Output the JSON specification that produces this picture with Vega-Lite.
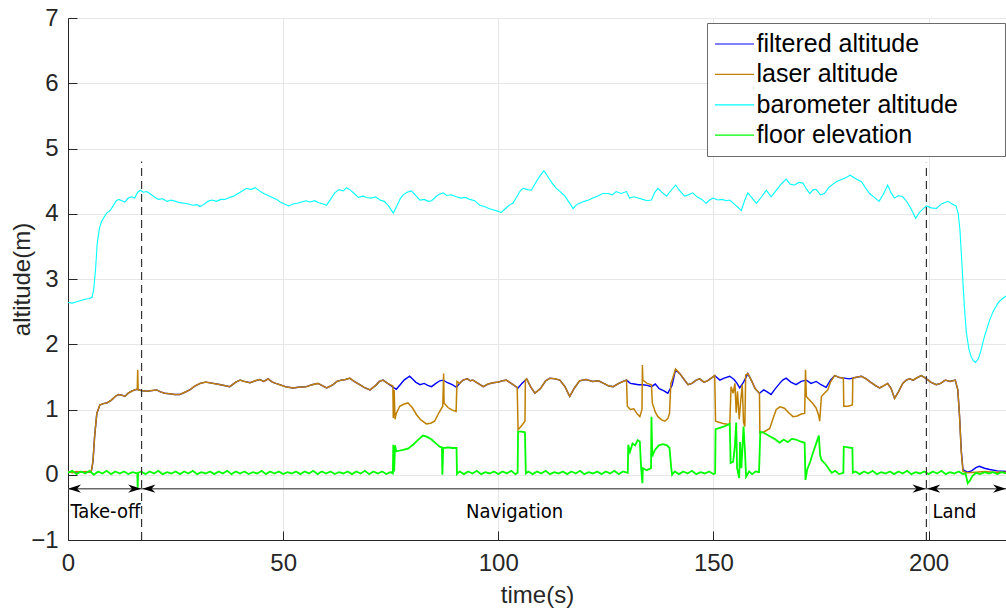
{
"$schema": "https://vega.github.io/schema/vega-lite/v6.json",
"width": 938, "height": 522,
"autosize": {"type": "none"},
"padding": {"left": 68, "top": 18, "right": 0, "bottom": 68},
"background": "white",
"config": {"view": {"stroke": null}, "font": "Liberation Sans"},
"datasets": {
"filtered": [
{"t":0,"a":0.04},{"t":5.4,"a":0.04},{"t":5.8,"a":0.2},{"t":6.2,"a":0.6},{"t":6.7,"a":0.94},{"t":7.4,"a":1.07},{"t":8.2,"a":1.09},{"t":9.0,"a":1.10},{"t":10.0,"a":1.14},{"t":11.0,"a":1.20},{"t":11.7,"a":1.23},{"t":12.5,"a":1.22},{"t":13.2,"a":1.20},{"t":14.0,"a":1.25},{"t":14.8,"a":1.28},{"t":15.5,"a":1.30},{"t":16.1,"a":1.31},{"t":17.0,"a":1.29},{"t":18.3,"a":1.28},{"t":19.5,"a":1.29},{"t":20.6,"a":1.30},{"t":21.5,"a":1.27},{"t":22.5,"a":1.25},{"t":23.7,"a":1.24},{"t":24.8,"a":1.23},{"t":26.0,"a":1.23},{"t":27.0,"a":1.26},{"t":28.3,"a":1.30},{"t":29.5,"a":1.36},{"t":30.7,"a":1.40},{"t":32.0,"a":1.42},{"t":33.8,"a":1.40},{"t":35.5,"a":1.38},{"t":37.6,"a":1.35},{"t":39.0,"a":1.42},{"t":40.0,"a":1.45},{"t":41.0,"a":1.43},{"t":42.3,"a":1.41},{"t":43.5,"a":1.44},{"t":44.5,"a":1.46},{"t":45.5,"a":1.43},{"t":46.5,"a":1.47},{"t":47.5,"a":1.42},{"t":48.3,"a":1.40},{"t":49.2,"a":1.38},{"t":50.5,"a":1.35},{"t":52.3,"a":1.33},{"t":53.5,"a":1.34},{"t":55.4,"a":1.35},{"t":56.7,"a":1.38},{"t":58.1,"a":1.40},{"t":59.0,"a":1.37},{"t":60.1,"a":1.33},{"t":61.0,"a":1.36},{"t":61.6,"a":1.38},{"t":62.5,"a":1.43},{"t":63.5,"a":1.45},{"t":64.5,"a":1.46},{"t":65.5,"a":1.48},{"t":66.5,"a":1.43},{"t":67.8,"a":1.38},{"t":68.8,"a":1.34},{"t":70.2,"a":1.30},{"t":71.5,"a":1.37},{"t":72.4,"a":1.43},{"t":73.2,"a":1.45},{"t":74.3,"a":1.40},{"t":75.6,"a":1.34},{"t":76.3,"a":1.31},{"t":77.2,"a":1.38},{"t":78.1,"a":1.45},{"t":79.4,"a":1.51},{"t":80.2,"a":1.46},{"t":80.8,"a":1.42},{"t":81.8,"a":1.38},{"t":82.8,"a":1.40},{"t":83.6,"a":1.37},{"t":84.5,"a":1.35},{"t":85.5,"a":1.40},{"t":86.4,"a":1.44},{"t":87.2,"a":1.45},{"t":88.2,"a":1.41},{"t":89.3,"a":1.38},{"t":90.3,"a":1.34},{"t":91.0,"a":1.40},{"t":91.8,"a":1.45},{"t":92.8,"a":1.47},{"t":93.5,"a":1.44},{"t":94.1,"a":1.45},{"t":95.3,"a":1.40},{"t":96.5,"a":1.35},{"t":97.6,"a":1.39},{"t":98.8,"a":1.41},{"t":100.0,"a":1.42},{"t":101.0,"a":1.44},{"t":101.9,"a":1.45},{"t":103.0,"a":1.40},{"t":104.6,"a":1.33},{"t":105.5,"a":1.40},{"t":106.6,"a":1.47},{"t":107.5,"a":1.35},{"t":108.5,"a":1.25},{"t":109.8,"a":1.32},{"t":111.0,"a":1.44},{"t":112.0,"a":1.48},{"t":113.2,"a":1.47},{"t":114.3,"a":1.45},{"t":115.5,"a":1.35},{"t":116.6,"a":1.20},{"t":117.7,"a":1.33},{"t":118.9,"a":1.44},{"t":120.4,"a":1.46},{"t":122.0,"a":1.43},{"t":123.3,"a":1.44},{"t":124.5,"a":1.40},{"t":125.7,"a":1.36},{"t":126.7,"a":1.35},{"t":128.0,"a":1.40},{"t":129.0,"a":1.43},{"t":129.8,"a":1.45},{"t":130.7,"a":1.40},{"t":131.6,"a":1.39},{"t":132.6,"a":1.38},{"t":133.6,"a":1.38},{"t":134.6,"a":1.37},{"t":135.6,"a":1.35},{"t":136.5,"a":1.39},{"t":137.4,"a":1.32},{"t":138.4,"a":1.29},{"t":139.4,"a":1.25},{"t":140.4,"a":1.37},{"t":141.2,"a":1.61},{"t":142.2,"a":1.55},{"t":143.2,"a":1.46},{"t":144.1,"a":1.38},{"t":145.0,"a":1.40},{"t":146.0,"a":1.45},{"t":146.8,"a":1.47},{"t":147.8,"a":1.42},{"t":148.6,"a":1.44},{"t":149.5,"a":1.48},{"t":150.3,"a":1.52},{"t":151.5,"a":1.45},{"t":152.5,"a":1.48},{"t":153.8,"a":1.51},{"t":154.8,"a":1.46},{"t":155.5,"a":1.40},{"t":156.1,"a":1.33},{"t":157.0,"a":1.42},{"t":158.0,"a":1.55},{"t":158.8,"a":1.45},{"t":159.7,"a":1.32},{"t":160.7,"a":1.25},{"t":161.7,"a":1.30},{"t":162.5,"a":1.27},{"t":163.4,"a":1.23},{"t":164.4,"a":1.32},{"t":165.4,"a":1.40},{"t":166.1,"a":1.45},{"t":166.9,"a":1.48},{"t":168.0,"a":1.42},{"t":169.2,"a":1.38},{"t":170.4,"a":1.43},{"t":171.6,"a":1.45},{"t":172.7,"a":1.40},{"t":173.9,"a":1.43},{"t":175.0,"a":1.38},{"t":176.2,"a":1.34},{"t":177.2,"a":1.45},{"t":178.2,"a":1.52},{"t":179.3,"a":1.49},{"t":180.4,"a":1.48},{"t":181.6,"a":1.47},{"t":183.0,"a":1.49},{"t":184.4,"a":1.51},{"t":185.5,"a":1.47},{"t":186.5,"a":1.42},{"t":187.6,"a":1.37},{"t":188.6,"a":1.33},{"t":189.5,"a":1.36},{"t":190.5,"a":1.40},{"t":191.3,"a":1.32},{"t":192.1,"a":1.17},{"t":193.0,"a":1.27},{"t":194.0,"a":1.40},{"t":194.8,"a":1.45},{"t":195.6,"a":1.47},{"t":196.4,"a":1.45},{"t":197.4,"a":1.49},{"t":198.3,"a":1.52},{"t":199.3,"a":1.48},{"t":200.5,"a":1.42},{"t":201.8,"a":1.38},{"t":202.8,"a":1.40},{"t":203.9,"a":1.45},{"t":205.0,"a":1.43},{"t":206.2,"a":1.45},{"t":206.8,"a":1.30},{"t":207.2,"a":0.90},{"t":207.6,"a":0.38},{"t":208.0,"a":0.08},{"t":209.0,"a":0.04},{"t":210.0,"a":0.06},{"t":211.0,"a":0.11},{"t":211.8,"a":0.13},{"t":213.0,"a":0.10},{"t":214.2,"a":0.08},{"t":216.0,"a":0.06},{"t":218.0,"a":0.05}
],
"laser": [
{"t":0,"a":0.05},{"t":1,"a":0.03},{"t":2,"a":0.05},{"t":3,"a":0.04},{"t":4,"a":0.05},{"t":5,"a":0.04},{"t":5.4,"a":0.05},{"t":5.8,"a":0.2},{"t":6.2,"a":0.6},{"t":6.7,"a":0.94},{"t":7.4,"a":1.07},{"t":8.2,"a":1.09},{"t":9.0,"a":1.10},{"t":10.0,"a":1.14},{"t":11.0,"a":1.20},{"t":11.7,"a":1.23},{"t":12.5,"a":1.22},{"t":13.2,"a":1.20},{"t":14.0,"a":1.25},{"t":14.8,"a":1.28},{"t":15.5,"a":1.30},{"t":16.1,"a":1.31},{"t":16.2,"a":1.61},{"t":16.3,"a":1.30},{"t":17.0,"a":1.29},{"t":18.3,"a":1.28},{"t":19.5,"a":1.29},{"t":20.6,"a":1.30},{"t":21.5,"a":1.27},{"t":22.5,"a":1.25},{"t":23.7,"a":1.24},{"t":24.8,"a":1.23},{"t":26.0,"a":1.23},{"t":27.0,"a":1.26},{"t":28.3,"a":1.30},{"t":29.5,"a":1.36},{"t":30.7,"a":1.40},{"t":32.0,"a":1.42},{"t":33.8,"a":1.40},{"t":35.5,"a":1.38},{"t":37.6,"a":1.35},{"t":39.0,"a":1.42},{"t":40.0,"a":1.45},{"t":41.0,"a":1.43},{"t":42.3,"a":1.41},{"t":43.5,"a":1.44},{"t":44.5,"a":1.46},{"t":45.5,"a":1.43},{"t":46.5,"a":1.47},{"t":47.5,"a":1.42},{"t":48.3,"a":1.40},{"t":49.2,"a":1.38},{"t":50.5,"a":1.35},{"t":52.3,"a":1.33},{"t":53.5,"a":1.34},{"t":55.4,"a":1.35},{"t":56.7,"a":1.38},{"t":58.1,"a":1.40},{"t":59.0,"a":1.37},{"t":60.1,"a":1.33},{"t":61.0,"a":1.36},{"t":61.6,"a":1.38},{"t":62.5,"a":1.43},{"t":63.5,"a":1.45},{"t":64.5,"a":1.46},{"t":65.5,"a":1.48},{"t":66.5,"a":1.43},{"t":67.8,"a":1.38},{"t":68.8,"a":1.34},{"t":70.2,"a":1.30},{"t":71.5,"a":1.37},{"t":72.4,"a":1.43},{"t":73.2,"a":1.45},{"t":74.3,"a":1.40},{"t":75.5,"a":1.36},{"t":75.6,"a":0.87},{"t":75.8,"a":1.30},{"t":76.0,"a":0.85},{"t":76.3,"a":0.94},{"t":77.1,"a":1.05},{"t":78.0,"a":1.08},{"t":79.0,"a":1.10},{"t":80.0,"a":1.03},{"t":81.0,"a":0.92},{"t":82.0,"a":0.84},{"t":83.3,"a":0.78},{"t":84.3,"a":0.79},{"t":85.2,"a":0.82},{"t":86.2,"a":0.95},{"t":87.1,"a":1.05},{"t":87.3,"a":1.55},{"t":87.4,"a":1.10},{"t":88.3,"a":1.03},{"t":89.3,"a":0.99},{"t":90.2,"a":0.97},{"t":90.4,"a":1.43},{"t":91.0,"a":1.40},{"t":91.8,"a":1.45},{"t":92.8,"a":1.47},{"t":93.5,"a":1.44},{"t":94.1,"a":1.45},{"t":95.3,"a":1.40},{"t":96.5,"a":1.35},{"t":97.6,"a":1.39},{"t":98.8,"a":1.41},{"t":100.0,"a":1.42},{"t":101.0,"a":1.44},{"t":101.9,"a":1.45},{"t":103.0,"a":1.40},{"t":104.4,"a":1.34},{"t":104.6,"a":0.69},{"t":105.5,"a":0.76},{"t":106.2,"a":0.82},{"t":106.3,"a":1.45},{"t":106.6,"a":1.47},{"t":107.5,"a":1.35},{"t":108.5,"a":1.25},{"t":109.8,"a":1.32},{"t":111.0,"a":1.44},{"t":112.0,"a":1.48},{"t":113.2,"a":1.47},{"t":114.3,"a":1.45},{"t":115.5,"a":1.35},{"t":116.6,"a":1.20},{"t":117.7,"a":1.33},{"t":118.9,"a":1.44},{"t":120.4,"a":1.46},{"t":122.0,"a":1.43},{"t":123.3,"a":1.44},{"t":124.5,"a":1.40},{"t":125.7,"a":1.36},{"t":126.7,"a":1.35},{"t":128.0,"a":1.40},{"t":129.0,"a":1.43},{"t":129.8,"a":1.45},{"t":130.0,"a":1.05},{"t":130.7,"a":1.00},{"t":131.5,"a":1.01},{"t":132.3,"a":0.93},{"t":132.9,"a":0.89},{"t":133.4,"a":1.00},{"t":133.5,"a":1.68},{"t":133.6,"a":1.45},{"t":134.6,"a":1.40},{"t":135.6,"a":1.38},{"t":135.8,"a":1.10},{"t":136.5,"a":0.96},{"t":137.1,"a":0.89},{"t":138.0,"a":0.84},{"t":138.7,"a":0.82},{"t":139.4,"a":0.86},{"t":139.8,"a":0.94},{"t":140.1,"a":1.40},{"t":140.4,"a":1.45},{"t":141.2,"a":1.62},{"t":142.2,"a":1.55},{"t":143.2,"a":1.46},{"t":144.1,"a":1.38},{"t":145.0,"a":1.40},{"t":146.0,"a":1.45},{"t":146.8,"a":1.47},{"t":147.8,"a":1.42},{"t":148.6,"a":1.44},{"t":149.5,"a":1.48},{"t":150.3,"a":1.52},{"t":150.5,"a":0.82},{"t":151.5,"a":0.80},{"t":152.5,"a":0.78},{"t":153.8,"a":0.77},{"t":154.1,"a":1.35},{"t":154.6,"a":1.25},{"t":155.0,"a":1.40},{"t":155.3,"a":0.95},{"t":155.6,"a":1.28},{"t":156.0,"a":0.85},{"t":156.3,"a":1.10},{"t":156.7,"a":1.38},{"t":157.0,"a":0.80},{"t":157.3,"a":0.74},{"t":157.5,"a":1.53},{"t":158.0,"a":1.55},{"t":158.8,"a":1.45},{"t":159.7,"a":1.32},{"t":160.7,"a":1.25},{"t":160.8,"a":0.64},{"t":161.8,"a":0.66},{"t":163.1,"a":0.71},{"t":163.8,"a":0.85},{"t":164.6,"a":1.00},{"t":165.5,"a":1.04},{"t":166.5,"a":1.02},{"t":167.5,"a":0.95},{"t":168.5,"a":0.89},{"t":169.5,"a":0.90},{"t":170.4,"a":0.93},{"t":171.2,"a":0.94},{"t":171.4,"a":1.61},{"t":171.6,"a":1.20},{"t":172.0,"a":1.17},{"t":173.0,"a":1.10},{"t":173.9,"a":1.02},{"t":174.5,"a":0.90},{"t":174.7,"a":0.82},{"t":175.1,"a":1.20},{"t":175.8,"a":1.25},{"t":176.6,"a":1.30},{"t":177.2,"a":1.42},{"t":178.2,"a":1.52},{"t":179.3,"a":1.49},{"t":180.2,"a":1.48},{"t":180.3,"a":1.05},{"t":181.3,"a":1.05},{"t":182.3,"a":1.07},{"t":182.4,"a":1.48},{"t":183.0,"a":1.49},{"t":184.4,"a":1.51},{"t":185.5,"a":1.47},{"t":186.5,"a":1.42},{"t":187.6,"a":1.37},{"t":188.6,"a":1.33},{"t":189.5,"a":1.36},{"t":190.5,"a":1.40},{"t":191.3,"a":1.32},{"t":192.1,"a":1.17},{"t":193.0,"a":1.27},{"t":194.0,"a":1.40},{"t":194.8,"a":1.45},{"t":195.6,"a":1.47},{"t":196.4,"a":1.45},{"t":197.4,"a":1.49},{"t":198.3,"a":1.52},{"t":199.3,"a":1.48},{"t":200.5,"a":1.42},{"t":201.8,"a":1.38},{"t":202.8,"a":1.40},{"t":203.9,"a":1.45},{"t":205.0,"a":1.43},{"t":206.2,"a":1.45},{"t":206.8,"a":1.30},{"t":207.2,"a":0.90},{"t":207.6,"a":0.35},{"t":208.0,"a":0.05},{"t":209.0,"a":0.03},{"t":211.0,"a":0.04},{"t":213.0,"a":0.05},{"t":215.0,"a":0.04},{"t":218.0,"a":0.04}
],
"baro": [
{"t":0,"a":2.64},{"t":1,"a":2.63},{"t":2,"a":2.65},{"t":3,"a":2.67},{"t":4,"a":2.69},{"t":5,"a":2.70},{"t":5.6,"a":2.72},{"t":6.0,"a":2.85},{"t":6.4,"a":3.15},{"t":6.8,"a":3.55},{"t":7.3,"a":3.78},{"t":7.8,"a":3.88},{"t":8.4,"a":3.95},{"t":9.0,"a":4.01},{"t":9.8,"a":4.05},{"t":10.5,"a":4.12},{"t":11.2,"a":4.20},{"t":11.8,"a":4.22},{"t":12.5,"a":4.20},{"t":13.2,"a":4.18},{"t":14.0,"a":4.24},{"t":14.8,"a":4.26},{"t":15.5,"a":4.24},{"t":16.2,"a":4.33},{"t":16.8,"a":4.36},{"t":17.5,"a":4.33},{"t":18.3,"a":4.34},{"t":19.0,"a":4.31},{"t":20.0,"a":4.26},{"t":21.0,"a":4.22},{"t":22.0,"a":4.23},{"t":23.0,"a":4.19},{"t":24.0,"a":4.21},{"t":25.0,"a":4.19},{"t":26.0,"a":4.17},{"t":27.0,"a":4.16},{"t":28.0,"a":4.15},{"t":29.0,"a":4.13},{"t":30.0,"a":4.14},{"t":30.7,"a":4.11},{"t":31.5,"a":4.14},{"t":32.5,"a":4.19},{"t":33.5,"a":4.21},{"t":34.5,"a":4.19},{"t":35.5,"a":4.22},{"t":36.5,"a":4.22},{"t":37.5,"a":4.25},{"t":38.5,"a":4.27},{"t":39.5,"a":4.31},{"t":40.5,"a":4.35},{"t":41.5,"a":4.39},{"t":42.5,"a":4.37},{"t":43.5,"a":4.40},{"t":44.5,"a":4.35},{"t":45.5,"a":4.31},{"t":46.5,"a":4.28},{"t":47.5,"a":4.25},{"t":48.5,"a":4.22},{"t":49.3,"a":4.18},{"t":50.3,"a":4.15},{"t":51.3,"a":4.12},{"t":52.3,"a":4.15},{"t":53.3,"a":4.16},{"t":54.3,"a":4.18},{"t":55.3,"a":4.20},{"t":56.3,"a":4.18},{"t":57.3,"a":4.20},{"t":58.3,"a":4.17},{"t":59.3,"a":4.15},{"t":60.1,"a":4.13},{"t":61.0,"a":4.22},{"t":62.0,"a":4.32},{"t":63.0,"a":4.37},{"t":64.0,"a":4.35},{"t":64.7,"a":4.40},{"t":65.5,"a":4.37},{"t":66.5,"a":4.31},{"t":67.5,"a":4.25},{"t":68.5,"a":4.27},{"t":69.5,"a":4.25},{"t":70.5,"a":4.24},{"t":71.5,"a":4.26},{"t":72.5,"a":4.21},{"t":73.5,"a":4.19},{"t":74.5,"a":4.12},{"t":75.6,"a":4.01},{"t":76.5,"a":4.13},{"t":77.3,"a":4.24},{"t":77.9,"a":4.29},{"t":78.8,"a":4.33},{"t":79.8,"a":4.35},{"t":80.8,"a":4.28},{"t":81.8,"a":4.21},{"t":82.8,"a":4.22},{"t":83.7,"a":4.19},{"t":84.5,"a":4.20},{"t":85.5,"a":4.26},{"t":86.3,"a":4.30},{"t":87.2,"a":4.32},{"t":88.0,"a":4.28},{"t":89.0,"a":4.29},{"t":90.3,"a":4.26},{"t":91.3,"a":4.24},{"t":92.3,"a":4.25},{"t":93.4,"a":4.22},{"t":94.5,"a":4.20},{"t":95.7,"a":4.13},{"t":96.8,"a":4.11},{"t":97.8,"a":4.08},{"t":98.8,"a":4.06},{"t":99.8,"a":4.04},{"t":100.7,"a":4.02},{"t":101.7,"a":4.08},{"t":102.7,"a":4.14},{"t":103.4,"a":4.16},{"t":104.3,"a":4.26},{"t":105.2,"a":4.36},{"t":105.8,"a":4.39},{"t":106.8,"a":4.37},{"t":107.7,"a":4.36},{"t":108.7,"a":4.48},{"t":109.7,"a":4.58},{"t":110.6,"a":4.66},{"t":111.5,"a":4.57},{"t":112.5,"a":4.47},{"t":113.5,"a":4.39},{"t":114.5,"a":4.33},{"t":115.5,"a":4.27},{"t":116.5,"a":4.17},{"t":117.4,"a":4.08},{"t":118.2,"a":4.14},{"t":118.9,"a":4.16},{"t":120.0,"a":4.19},{"t":121.0,"a":4.21},{"t":122.0,"a":4.24},{"t":123.0,"a":4.27},{"t":124.3,"a":4.31},{"t":125.5,"a":4.31},{"t":126.5,"a":4.29},{"t":127.4,"a":4.34},{"t":128.5,"a":4.31},{"t":129.8,"a":4.34},{"t":130.5,"a":4.24},{"t":131.5,"a":4.26},{"t":132.5,"a":4.24},{"t":133.6,"a":4.22},{"t":134.6,"a":4.20},{"t":135.6,"a":4.21},{"t":136.3,"a":4.32},{"t":137.1,"a":4.39},{"t":138.0,"a":4.33},{"t":139.1,"a":4.27},{"t":140.2,"a":4.36},{"t":141.2,"a":4.44},{"t":142.2,"a":4.35},{"t":143.3,"a":4.27},{"t":144.2,"a":4.29},{"t":145.2,"a":4.32},{"t":146.2,"a":4.26},{"t":147.3,"a":4.22},{"t":148.3,"a":4.16},{"t":149.1,"a":4.21},{"t":149.9,"a":4.24},{"t":151.0,"a":4.21},{"t":152.0,"a":4.22},{"t":153.0,"a":4.20},{"t":153.8,"a":4.21},{"t":155.0,"a":4.14},{"t":156.5,"a":4.05},{"t":157.3,"a":4.21},{"t":158.0,"a":4.32},{"t":159.0,"a":4.24},{"t":160.0,"a":4.16},{"t":161.2,"a":4.26},{"t":162.3,"a":4.36},{"t":163.4,"a":4.26},{"t":164.5,"a":4.35},{"t":165.7,"a":4.45},{"t":166.9,"a":4.53},{"t":167.9,"a":4.45},{"t":168.9,"a":4.44},{"t":169.8,"a":4.48},{"t":170.8,"a":4.47},{"t":171.6,"a":4.38},{"t":172.4,"a":4.31},{"t":173.2,"a":4.37},{"t":173.9,"a":4.37},{"t":174.9,"a":4.29},{"t":175.8,"a":4.31},{"t":176.8,"a":4.40},{"t":177.7,"a":4.45},{"t":178.6,"a":4.49},{"t":179.6,"a":4.52},{"t":180.7,"a":4.55},{"t":181.8,"a":4.59},{"t":183.0,"a":4.54},{"t":184.4,"a":4.49},{"t":185.3,"a":4.40},{"t":186.3,"a":4.31},{"t":187.4,"a":4.25},{"t":188.5,"a":4.19},{"t":189.5,"a":4.30},{"t":190.5,"a":4.44},{"t":191.3,"a":4.32},{"t":192.1,"a":4.24},{"t":193.0,"a":4.28},{"t":194.0,"a":4.26},{"t":195.0,"a":4.18},{"t":196.0,"a":4.07},{"t":197.0,"a":3.93},{"t":198.0,"a":4.03},{"t":199.0,"a":4.09},{"t":199.5,"a":4.12},{"t":200.6,"a":4.09},{"t":201.8,"a":4.08},{"t":203.0,"a":4.15},{"t":204.5,"a":4.19},{"t":205.5,"a":4.15},{"t":206.4,"a":4.12},{"t":206.9,"a":4.00},{"t":207.3,"a":3.75},{"t":207.7,"a":3.30},{"t":208.0,"a":2.94},{"t":208.4,"a":2.50},{"t":208.8,"a":2.17},{"t":209.4,"a":1.92},{"t":209.9,"a":1.81},{"t":210.4,"a":1.75},{"t":210.9,"a":1.72},{"t":211.6,"a":1.78},{"t":212.2,"a":1.91},{"t":213.0,"a":2.12},{"t":214.2,"a":2.37},{"t":215.0,"a":2.50},{"t":216.1,"a":2.63},{"t":217.0,"a":2.69},{"t":218.0,"a":2.74}
],
"floor": [
{"t":0,"a":0.03},{"t":1,"a":0.06},{"t":2,"a":0.01},{"t":3,"a":0.05},{"t":4,"a":0.02},{"t":5,"a":0.06},{"t":6,"a":0.0},{"t":7,"a":0.05},{"t":8,"a":0.02},{"t":9,"a":0.06},{"t":10,"a":0.01},{"t":11,"a":0.05},{"t":12,"a":0.02},{"t":13,"a":0.05},{"t":14,"a":0.01},{"t":15,"a":0.04},{"t":16.1,"a":0.02},{"t":16.2,"a":-0.2},{"t":16.3,"a":0.03},{"t":17,"a":0.05},{"t":18,"a":0.01},{"t":19,"a":0.05},{"t":20,"a":0.02},{"t":21,"a":0.06},{"t":22,"a":0.01},{"t":23,"a":0.04},{"t":24,"a":0.02},{"t":25,"a":0.05},{"t":26,"a":0.01},{"t":27,"a":0.05},{"t":28,"a":0.02},{"t":29,"a":0.06},{"t":30,"a":0.01},{"t":31,"a":0.04},{"t":32,"a":0.02},{"t":33,"a":0.05},{"t":34,"a":0.01},{"t":35,"a":0.05},{"t":36,"a":0.02},{"t":37,"a":0.06},{"t":38,"a":0.01},{"t":39,"a":0.05},{"t":40,"a":0.02},{"t":41,"a":0.05},{"t":42,"a":0.01},{"t":43,"a":0.04},{"t":44,"a":0.02},{"t":45,"a":0.06},{"t":46,"a":0.01},{"t":47,"a":0.05},{"t":48,"a":0.02},{"t":49,"a":0.05},{"t":50,"a":0.01},{"t":51,"a":0.04},{"t":52,"a":0.02},{"t":53,"a":0.05},{"t":54,"a":0.01},{"t":55,"a":0.05},{"t":56,"a":0.02},{"t":57,"a":0.06},{"t":58,"a":0.01},{"t":59,"a":0.05},{"t":60,"a":0.02},{"t":61,"a":0.05},{"t":62,"a":0.01},{"t":63,"a":0.04},{"t":64,"a":0.02},{"t":65,"a":0.05},{"t":66,"a":0.01},{"t":67,"a":0.05},{"t":68,"a":0.02},{"t":69,"a":0.06},{"t":70,"a":0.01},{"t":71,"a":0.05},{"t":72,"a":0.02},{"t":73,"a":0.05},{"t":74,"a":0.01},{"t":75,"a":0.04},{"t":75.5,"a":0.02},
{"t":75.6,"a":0.46},{"t":75.8,"a":0.05},{"t":76.0,"a":0.45},{"t":76.3,"a":0.36},{"t":77.9,"a":0.38},{"t":79.0,"a":0.40},{"t":80.2,"a":0.46},{"t":81.3,"a":0.53},{"t":82.5,"a":0.60},{"t":83.5,"a":0.58},{"t":84.5,"a":0.54},{"t":85.5,"a":0.48},{"t":86.4,"a":0.43},{"t":86.9,"a":0.42},{"t":87.0,"a":0.0},{"t":87.2,"a":0.41},{"t":88.3,"a":0.42},{"t":89.3,"a":0.41},{"t":90.3,"a":0.41},{"t":90.4,"a":0.01},
{"t":91,"a":0.05},{"t":92,"a":0.01},{"t":93,"a":0.05},{"t":94,"a":0.02},{"t":95,"a":0.06},{"t":96,"a":0.01},{"t":97,"a":0.04},{"t":98,"a":0.02},{"t":99,"a":0.05},{"t":100,"a":0.01},{"t":101,"a":0.05},{"t":102,"a":0.02},{"t":103,"a":0.06},{"t":104,"a":0.01},{"t":104.5,"a":0.03},
{"t":104.6,"a":0.66},{"t":105.5,"a":0.66},{"t":106.2,"a":0.65},{"t":106.4,"a":0.02},
{"t":107,"a":0.05},{"t":108,"a":0.01},{"t":109,"a":0.05},{"t":110,"a":0.02},{"t":111,"a":0.06},{"t":112,"a":0.01},{"t":113,"a":0.04},{"t":114,"a":0.02},{"t":115,"a":0.05},{"t":116,"a":0.01},{"t":117,"a":0.05},{"t":118,"a":0.02},{"t":119,"a":0.06},{"t":120,"a":0.01},{"t":121,"a":0.04},{"t":122,"a":0.02},{"t":123,"a":0.05},{"t":124,"a":0.01},{"t":125,"a":0.05},{"t":126,"a":0.02},{"t":127,"a":0.06},{"t":128,"a":0.01},{"t":129,"a":0.05},{"t":130.1,"a":0.03},
{"t":130.2,"a":0.46},{"t":130.6,"a":0.35},{"t":131.2,"a":0.48},{"t":131.8,"a":0.45},{"t":132.4,"a":0.53},{"t":132.9,"a":0.51},{"t":133.2,"a":0.10},{"t":133.5,"a":-0.13},{"t":133.6,"a":0.10},{"t":134.5,"a":0.07},{"t":135.5,"a":0.10},{"t":135.6,"a":0.89},{"t":135.8,"a":0.28},{"t":136.4,"a":0.38},{"t":137.3,"a":0.45},{"t":138.3,"a":0.47},{"t":139.2,"a":0.45},{"t":139.8,"a":0.41},{"t":140.2,"a":0.10},{"t":140.4,"a":0.0},
{"t":141,"a":0.05},{"t":142,"a":0.01},{"t":143,"a":0.05},{"t":144,"a":0.02},{"t":145,"a":0.06},{"t":146,"a":0.01},{"t":147,"a":0.04},{"t":148,"a":0.02},{"t":149,"a":0.05},{"t":150,"a":0.01},{"t":150.4,"a":0.02},
{"t":150.5,"a":0.70},{"t":151.5,"a":0.72},{"t":152.5,"a":0.74},{"t":153.8,"a":0.78},{"t":154.0,"a":0.18},{"t":154.6,"a":0.20},{"t":155.0,"a":0.45},{"t":155.3,"a":0.80},{"t":155.5,"a":0.10},{"t":156.0,"a":-0.05},{"t":156.2,"a":0.50},{"t":156.5,"a":0.10},{"t":157.0,"a":0.74},{"t":157.3,"a":0.40},{"t":157.6,"a":-0.03},{"t":158.3,"a":0.05},{"t":159.0,"a":0.01},{"t":159.8,"a":0.05},{"t":160.6,"a":0.04},
{"t":160.9,"a":0.66},{"t":161.8,"a":0.64},{"t":163.1,"a":0.59},{"t":164.2,"a":0.55},{"t":165.4,"a":0.49},{"t":166.3,"a":0.54},{"t":167.3,"a":0.50},{"t":168.2,"a":0.55},{"t":169.2,"a":0.54},{"t":170.2,"a":0.51},{"t":171.2,"a":0.49},{"t":171.4,"a":-0.08},{"t":171.8,"a":0.08},{"t":172.5,"a":0.20},{"t":173.1,"a":0.33},{"t":174.0,"a":0.50},{"t":174.5,"a":0.60},{"t":174.8,"a":0.30},{"t":175.1,"a":0.23},{"t":176.2,"a":0.15},{"t":176.9,"a":0.08},{"t":177.5,"a":0.03},{"t":178.3,"a":0.06},{"t":179.2,"a":0.01},{"t":180.2,"a":0.03},
{"t":180.3,"a":0.43},{"t":181.3,"a":0.42},{"t":182.3,"a":0.41},{"t":182.4,"a":0.03},
{"t":183,"a":0.05},{"t":184,"a":0.01},{"t":185,"a":0.05},{"t":186,"a":0.02},{"t":187,"a":0.06},{"t":188,"a":0.01},{"t":189,"a":0.04},{"t":190,"a":0.02},{"t":191,"a":0.05},{"t":192,"a":0.01},{"t":193,"a":0.05},{"t":194,"a":0.02},{"t":195,"a":0.06},{"t":196,"a":0.01},{"t":197,"a":0.04},{"t":198,"a":0.02},{"t":199,"a":0.05},{"t":200,"a":0.01},{"t":201,"a":0.05},{"t":202,"a":0.02},{"t":203,"a":0.06},{"t":204,"a":0.01},{"t":205,"a":0.04},{"t":206,"a":0.02},{"t":207,"a":0.05},{"t":208,"a":0.01},{"t":208.6,"a":0.02},{"t":209.1,"a":-0.13},{"t":209.6,"a":-0.09},{"t":210.2,"a":-0.02},{"t":211,"a":0.03},{"t":212,"a":0.01},{"t":213,"a":0.04},{"t":214,"a":0.02},{"t":215,"a":0.04},{"t":216,"a":0.01},{"t":217,"a":0.04},{"t":218,"a":0.02}
],
"phases": [{"t":17.1,"a":-1,"a2":4.8},{"t":199.5,"a":-1,"a2":4.78}],
"span": [{"t":0,"t2":218,"a":-0.214}],
"arrows": [{"t":0,"a":-0.214,"dir":"left"},{"t":17.0,"a":-0.214,"dir":"right"},{"t":17.3,"a":-0.214,"dir":"left"},{"t":199.3,"a":-0.214,"dir":"right"},{"t":199.7,"a":-0.214,"dir":"left"},{"t":218,"a":-0.214,"dir":"right"}],
"labels": [{"t":8.7,"a":-0.66,"label":"Take-off"},{"t":103.8,"a":-0.66,"label":"Navigation"},{"t":206.0,"a":-0.66,"label":"Land"}]
},
"encoding": {
"x": {"field": "t", "type": "quantitative", "scale": {"domain": [0, 218], "nice": false, "zero": false},
 "axis": {"title": "time(s)", "values": [0, 50, 100, 150, 200], "grid": true, "gridColor": "#e6e6e6", "tickSize": -9, "tickColor": "#262626", "domainColor": "#262626", "labelFont": "Liberation Sans", "labelFontSize": 24, "labelColor": "#262626", "labelPadding": 20, "labelFlush": false, "labelOverlap": false, "titleFont": "Liberation Sans", "titleFontSize": 24, "titleFontWeight": "normal", "titleColor": "#262626", "titlePadding": 8}},
"y": {"field": "a", "type": "quantitative", "scale": {"domain": [-1, 7], "nice": false, "zero": false},
 "axis": {"title": "altitude(m)", "values": [-1, 0, 1, 2, 3, 4, 5, 6, 7], "grid": true, "gridColor": "#e6e6e6", "tickSize": -9, "tickColor": "#262626", "domainColor": "#262626", "labelFont": "Liberation Sans", "labelFontSize": 24, "labelColor": "#262626", "labelPadding": 19, "labelFlush": false, "labelOverlap": false, "titleFont": "Liberation Sans", "titleFontSize": 24, "titleFontWeight": "normal", "titleColor": "#262626", "titlePadding": -4}}
},
"layer": [
{"data": {"name": "filtered"}, "mark": {"type": "line", "strokeWidth": 1.4, "clip": true},
 "encoding": {"color": {"datum": "filtered altitude", "type": "nominal",
  "scale": {"domain": ["filtered altitude", "laser altitude", "barometer altitude", "floor elevation"], "range": ["#0000ff", "#bf8000", "#00ffff", "#00ff00"]},
  "legend": {"title": "x", "titleOrient": "right", "titleColor": "#ffffff", "titleFontSize": 10, "titlePadding": 34, "orient": "none", "legendX": 639, "legendY": 5, "symbolType": "M-1.5,0L1.5,0", "symbolSize": 676, "symbolOffset": 6.5, "symbolStrokeWidth": 1.2, "labelFont": "Liberation Sans", "labelFontSize": 25, "labelColor": "#000000", "labelOffset": 8, "padding": 7, "rowPadding": 3.4, "strokeColor": "#6b6b6b", "fillColor": "#ffffff", "labelLimit": 400}}}},
{"data": {"name": "laser"}, "mark": {"type": "line", "strokeWidth": 1.5, "clip": true},
 "encoding": {"color": {"datum": "laser altitude", "type": "nominal"}}},
{"data": {"name": "baro"}, "mark": {"type": "line", "strokeWidth": 1.1, "clip": true},
 "encoding": {"color": {"datum": "barometer altitude", "type": "nominal"}}},
{"data": {"name": "floor"}, "mark": {"type": "line", "strokeWidth": 1.8, "clip": true},
 "encoding": {"color": {"datum": "floor elevation", "type": "nominal"}}},
{"data": {"name": "phases"}, "mark": {"type": "rule", "color": "#333333", "strokeWidth": 1.2, "strokeDash": [8, 5]},
 "encoding": {"y2": {"field": "a2"}}},
{"data": {"name": "span"}, "mark": {"type": "rule", "color": "#6a6a6a", "strokeWidth": 1.6},
 "encoding": {"x2": {"field": "t2"}}},
{"data": {"name": "arrows"}, "mark": {"type": "point", "filled": true, "color": "#000000", "opacity": 1, "size": 676, "strokeWidth": 0},
 "encoding": {"shape": {"field": "dir", "type": "nominal", "scale": {"domain": ["left", "right"], "range": ["M0,0L1,-0.32L0.7,0L1,0.32Z", "M0,0L-1,-0.32L-0.7,0L-1,0.32Z"]}, "legend": null}}},
{"data": {"name": "labels"}, "mark": {"type": "text", "font": "DejaVu Sans Condensed", "fontSize": 20, "baseline": "alphabetic", "align": "center", "color": "#000000"},
 "encoding": {"text": {"field": "label", "type": "nominal"}}}
]
}
